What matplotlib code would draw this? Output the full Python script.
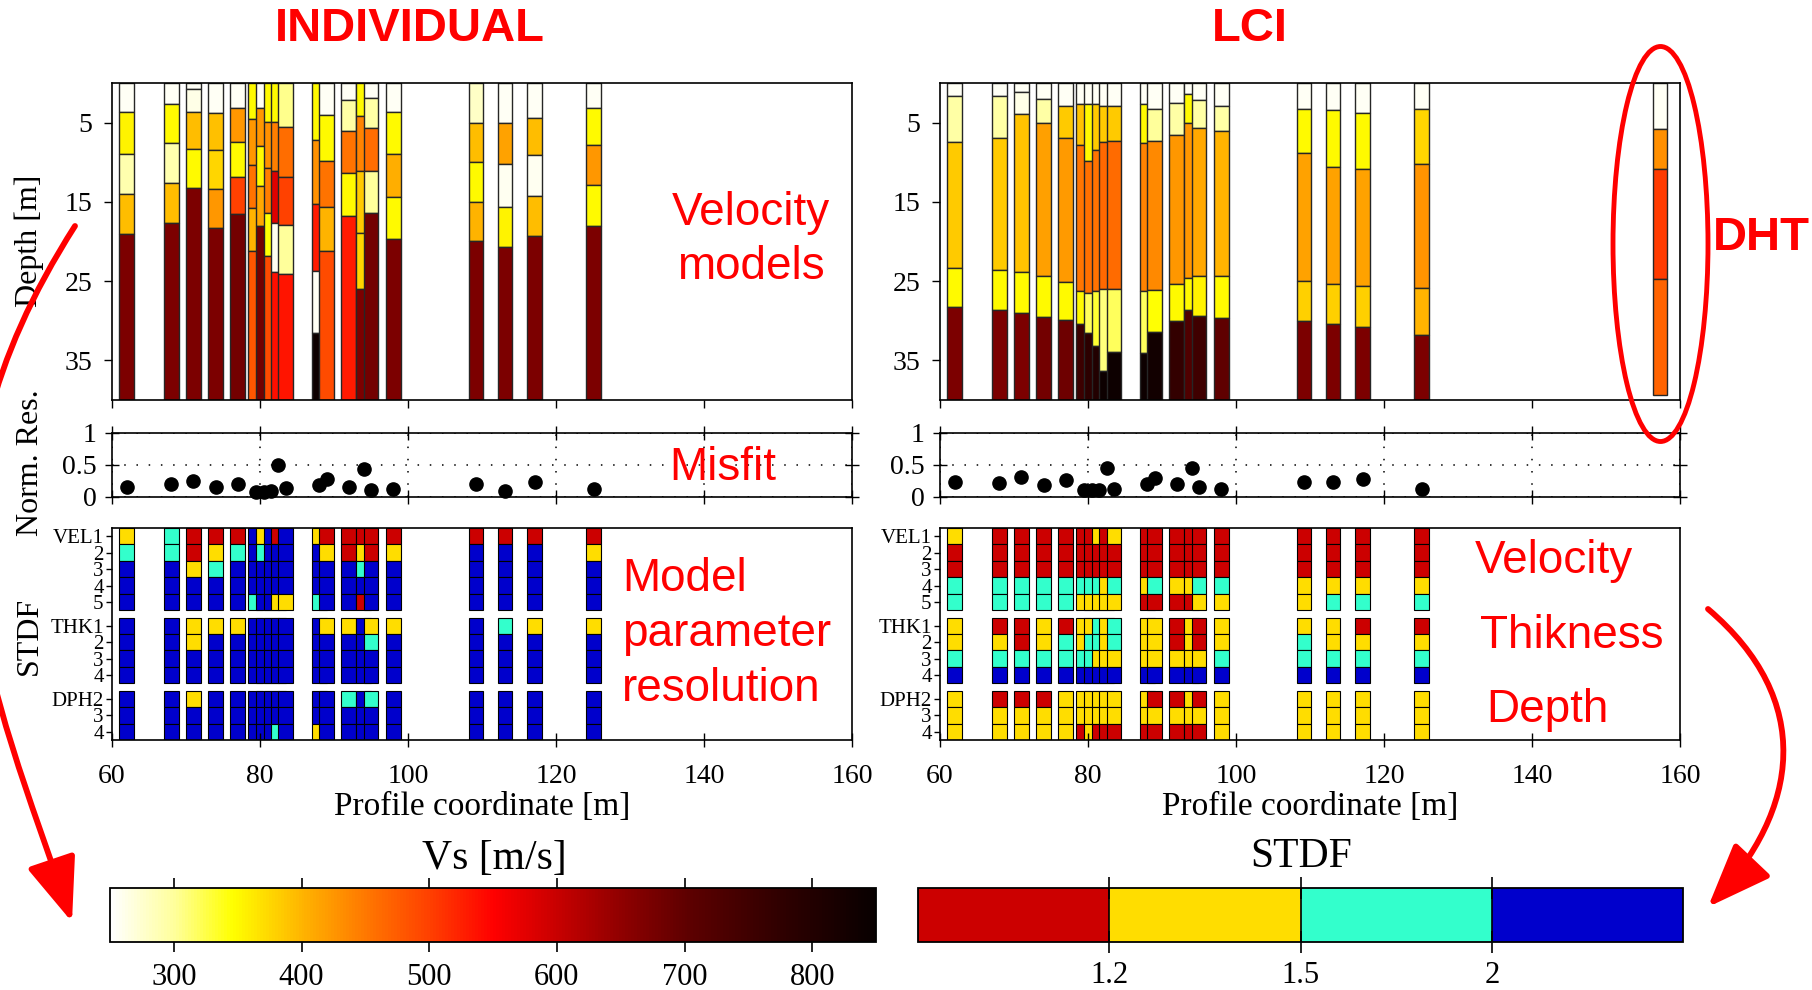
import matplotlib
matplotlib.use("Agg")
import matplotlib.pyplot as plt
import matplotlib.cm as cm
from matplotlib.colors import LinearSegmentedColormap, ListedColormap, BoundaryNorm, Normalize
from matplotlib.patches import Ellipse, FancyArrowPatch
from matplotlib.path import Path

plt.rcParams['font.family'] = ['Liberation Serif', 'DejaVu Serif']
SANS = ['Liberation Sans', 'DejaVu Sans']

# ---------------------------------------------------------------- data
positions = [62, 68, 71, 74, 77, 79.4, 80.5, 81.5, 82.5, 83.5,
             88, 89, 92, 94, 95, 98, 109.2, 113.1, 117.1, 125.1]

# layer interfaces (depth of each layer bottom, m) and Vs of each layer (m/s)
ind_interfaces = [
    [3.7, 9.0, 14.0, 19.0], [2.6, 7.6, 12.6, 17.7], [0.7, 3.6, 8.3, 13.2],
    [3.8, 8.5, 13.4, 18.3], [3.2, 7.4, 11.8, 16.5], [4.6, 10.3, 15.8, 21.2],
    [3.2, 8.0, 13.0, 18.1], [4.9, 10.7, 16.4, 21.8], [4.9, 11.1, 17.7, 23.9],
    [5.6, 11.9, 17.9, 24.1], [7.2, 15.3, 23.7, 31.5], [4.0, 9.9, 15.7, 21.2],
    [2.1, 6.0, 11.4, 16.8], [4.2, 11.1, 18.9, 26.0], [1.9, 5.7, 11.1, 16.4],
    [3.6, 9.0, 14.4, 19.7], [5.1, 10.0, 15.0, 19.9], [5.1, 10.2, 15.7, 20.7],
    [4.4, 9.1, 14.3, 19.3], [3.1, 7.8, 12.9, 18.1]]
ind_vs = [
    [255, 355, 290, 395, 670], [255, 350, 290, 395, 670], [255, 262, 395, 350, 670],
    [255, 392, 375, 425, 670], [255, 425, 350, 500, 680], [350, 425, 455, 400, 480],
    [255, 425, 350, 410, 680], [350, 430, 445, 345, 490], [350, 445, 580, 258, 540],
    [305, 460, 500, 300, 535], [350, 430, 530, 255, 840], [255, 350, 455, 400, 490],
    [255, 295, 455, 350, 530], [350, 440, 385, 375, 670], [255, 295, 460, 300, 680],
    [255, 350, 405, 350, 670], [280, 395, 350, 400, 670], [255, 415, 258, 355, 670],
    [255, 395, 258, 395, 670], [255, 350, 425, 350, 670]]

lci_interfaces = [
    [1.7, 7.5, 23.3, 28.3], [1.6, 7.0, 23.6, 28.7], [1.1, 3.9, 23.9, 29.0],
    [2.0, 5.1, 24.4, 29.5], [2.9, 7.0, 25.1, 29.9], [2.6, 7.8, 26.2, 30.4],
    [2.6, 9.9, 26.5, 31.5], [2.7, 8.4, 26.2, 33.2], [2.85, 7.4, 26.0, 36.4],
    [2.85, 7.3, 26.0, 33.9], [2.7, 7.6, 26.3, 34.1], [3.3, 7.3, 26.1, 31.4],
    [2.5, 6.5, 25.3, 30.0], [1.4, 5.1, 24.6, 28.7], [2.1, 5.7, 24.4, 29.4],
    [2.85, 6.1, 24.4, 29.6], [3.3, 8.8, 25.0, 30.0], [3.4, 10.6, 25.3, 30.4],
    [3.8, 10.9, 25.6, 30.8], [3.3, 10.2, 25.9, 31.8]]
lci_vs = [
    [255, 295, 385, 350, 670], [255, 295, 385, 350, 670], [255, 262, 390, 350, 670],
    [255, 295, 418, 350, 680], [255, 385, 423, 350, 685], [255, 390, 452, 350, 755],
    [255, 350, 458, 320, 780], [255, 385, 456, 330, 800], [255, 385, 465, 310, 840],
    [255, 385, 462, 320, 840], [255, 350, 440, 320, 840], [255, 300, 437, 345, 830],
    [255, 295, 425, 350, 770], [255, 350, 425, 350, 725], [255, 295, 410, 355, 750],
    [255, 295, 400, 350, 700], [255, 350, 415, 380, 670], [255, 350, 415, 380, 670],
    [255, 350, 415, 380, 670], [255, 375, 428, 400, 670]]

# down-hole test log
dht_position = 157.3
dht_interfaces = [5.8, 10.9, 24.7]
dht_vs = [255, 432, 505, 468]
dht_bottom = 39.4

ind_misfit = [0.16, 0.20, 0.25, 0.16, 0.21, 0.08, 0.08, 0.09, 0.50, 0.14,
              0.19, 0.28, 0.16, 0.44, 0.11, 0.12, 0.20, 0.09, 0.24, 0.12]
lci_misfit = [0.23, 0.22, 0.31, 0.19, 0.26, 0.11, 0.11, 0.11, 0.45, 0.13,
              0.21, 0.29, 0.20, 0.45, 0.16, 0.12, 0.23, 0.24, 0.28, 0.13]

# STDF class of each parameter (VEL1-5, THK1-4, DPH2-4):
# R < 1.2, Y 1.2-1.5, C 1.5-2, B > 2
ind_stdf = [
    "YCBBB" "BBBB" "BBB", "CCBBB" "BBBB" "BBB", "RRYBB" "YYBB" "YBB",
    "RYCBB" "YBBB" "BBB", "RCBBB" "YBBB" "BBB", "BBBBC" "BBBB" "BBB",
    "YCBBB" "BBBB" "BBB", "BBBBB" "BBBB" "BBB", "RBBBY" "BBBB" "BBC",
    "BBBBY" "BBBB" "BBB", "YBBBC" "BBBB" "BBY", "RYBBB" "YBBB" "BBB",
    "RRBBB" "YBBB" "CBB", "RYCBR" "BBBB" "BBB", "RRBBB" "YCBB" "CBB",
    "RYBBB" "YBBB" "BBB", "RBBBB" "BBBB" "BBB", "RBBBB" "CBBB" "BBB",
    "RBBBB" "YBBB" "BBB", "RYBBB" "YBBB" "BBB"]
lci_stdf = [
    "YRRCC" "YYCB" "YYY", "RRRCC" "RYCB" "RYY", "RRRCC" "RRCB" "RYY",
    "RRRCC" "YYCB" "RYY", "RRRCC" "RCCB" "YYY", "RRRCY" "YYCB" "YYR",
    "RRRCY" "YCCB" "YYY", "YRRCY" "CCYB" "YYR", "RRRYY" "YYYB" "YYR",
    "YRRCY" "CCYB" "YYR", "RRRYR" "YYYB" "YYR", "RRRCR" "YYYB" "RYR",
    "RRRYR" "RRYB" "RYR", "RRRYR" "YYYB" "YYR", "RRRCY" "RRYB" "RYR",
    "RRRCY" "YYCB" "YYY", "RRRYY" "YCCB" "YYY", "RRRYC" "YYCB" "YYY",
    "RRRYC" "RYCB" "YYY", "RRRYC" "RYCB" "YYY"]

param_labels = ['VEL1', '2', '3', '4', '5', 'THK1', '2', '3', '4', 'DPH2', '3', '4']
stdf_classes = "RYCB"
stdf_colors = ['#CC0000', '#FFDD00', '#33FFCC', '#0000CC']
stdf_bounds = [1.0, 1.2, 1.5, 2.0, 3.0]
stdf_ticks = [1.2, 1.5, 2.0]
stdf_ticklabels = ['1.2', '1.5', '2']

vs_range = (250, 850)
vs_ticks = [300, 400, 500, 600, 700, 800]
vs_anchors = [(250, '#FFFFFF'), (300, '#FFFF9A'), (345, '#FFFF00'), (400, '#FFB400'),
              (450, '#FF7800'), (500, '#FF4000'), (550, '#FF0000'), (600, '#C80000'),
              (650, '#900000'), (700, '#600000'), (775, '#300000'), (850, '#080000')]

depth_max = 40
depth_ticks = [5, 15, 25, 35]
profile_range = (60, 160)
profile_ticks = [60, 80, 100, 120, 140, 160]
misfit_ticks = [0, 0.5, 1]
bar_width = 2.0

# ---------------------------------------------------------------- styles
vs_cmap = LinearSegmentedColormap.from_list(
    'vs', [((v - vs_range[0]) / (vs_range[1] - vs_range[0]), c) for v, c in vs_anchors])
vs_norm = Normalize(*vs_range)

# STDF row layout: three groups of rows separated by small gaps
gap = 0.45
row_top = [0, 1, 2, 3, 4, 5 + gap, 6 + gap, 7 + gap, 8 + gap,
           9 + 2 * gap, 10 + 2 * gap, 11 + 2 * gap]
stdf_total = 12 + 2 * gap

W, H = 1812, 990
fig = plt.figure(figsize=(W / 100, H / 100), dpi=100)


def px_axes(x0, y0, x1, y1):
    return fig.add_axes([x0 / W, 1 - y1 / H, (x1 - x0) / W, (y1 - y0) / H])


TICK = 20


def velocity_panel(ax, interfaces, vs):
    for x, itf, v in zip(positions, interfaces, vs):
        tops = [0] + list(itf)
        bots = list(itf) + [depth_max]
        ax.bar([x] * len(tops), [b - t for t, b in zip(tops, bots)], bottom=tops,
               width=bar_width, color=vs_cmap(vs_norm(v)), edgecolor='#262626',
               linewidth=1.0, align='center')
    ax.set_xlim(*profile_range)
    ax.set_ylim(depth_max, 0)
    ax.set_yticks(depth_ticks)
    ax.set_xticks(profile_ticks)
    ax.tick_params(axis='x', direction='out', length=6, width=1, labelbottom=False)
    ax.tick_params(axis='y', direction='out', length=6, width=1, labelsize=TICK, pad=8)


def misfit_panel(ax, misfit):
    ax.plot(positions, misfit, 'o', color='black', ms=9.5, clip_on=False, zorder=5)
    ax.set_xlim(*profile_range)
    ax.set_ylim(0, 1)
    ax.set_xticks(profile_ticks)
    ax.set_yticks(misfit_ticks)
    ax.set_yticklabels(['0', '0.5', '1'])
    ax.grid(True, color='black', linestyle=(0, (1, 7)), linewidth=1.1)
    ax.tick_params(direction='inout', length=10, width=1, top=True, right=True,
                   labelbottom=False, labelsize=TICK, pad=6)


def stdf_panel(ax, classes):
    for x, s in zip(positions, classes):
        cols = [stdf_colors[stdf_classes.index(c)] for c in s]
        ax.bar([x] * len(s), [1] * len(s), bottom=row_top, width=bar_width,
               color=cols, edgecolor='black', linewidth=0.8)
    ax.set_xlim(*profile_range)
    ax.set_ylim(stdf_total, 0)
    ax.set_yticks([t + 0.5 for t in row_top])
    ax.set_yticklabels(param_labels)
    ax.set_xticks(profile_ticks)
    ax.tick_params(axis='y', direction='out', length=4, width=1, labelsize=15, pad=2)
    ax.tick_params(axis='x', direction='inout', length=10, width=1, labelsize=TICK, pad=12)
    for lab in ax.get_yticklabels():
        lab.set_verticalalignment('center_baseline')
    ax.set_xlabel('Profile coordinate [m]', fontsize=24, labelpad=2)


for ax_x0, ax_x1, itf, vs, mis, std in [
        (112, 852, ind_interfaces, ind_vs, ind_misfit, ind_stdf),
        (940, 1680, lci_interfaces, lci_vs, lci_misfit, lci_stdf)]:
    av = px_axes(ax_x0, 83, ax_x1, 400)
    velocity_panel(av, itf, vs)
    am = px_axes(ax_x0, 433, ax_x1, 497)
    misfit_panel(am, mis)
    ast = px_axes(ax_x0, 528, ax_x1, 740)
    stdf_panel(ast, std)
    for a in (av, am, ast):
        for sp in a.spines.values():
            sp.set_linewidth(1.2)
    if ax_x0 > 500:
        tops = [0] + dht_interfaces
        bots = dht_interfaces + [dht_bottom]
        av.bar([dht_position] * len(tops), [b - t for t, b in zip(tops, bots)], bottom=tops,
               width=bar_width, color=vs_cmap(vs_norm(dht_vs)), edgecolor='#262626',
               linewidth=1.0)

# axis titles on the left side
fig.text(29 / W, 1 - 241 / H, 'Depth [m]', rotation=90, ha='center', va='center', fontsize=23)
fig.text(30 / W, 1 - 463 / H, 'Norm. Res.', rotation=90, ha='center', va='center', fontsize=23)
fig.text(29 / W, 1 - 636 / H, 'STDF', rotation=90, ha='center', va='center', fontsize=23)

# ---------------------------------------------------------------- colour bars
cax1 = px_axes(110, 888, 876, 942)
cb1 = fig.colorbar(cm.ScalarMappable(norm=vs_norm, cmap=vs_cmap), cax=cax1,
                   orientation='horizontal', ticks=vs_ticks)
cax1.tick_params(axis='x', direction='out', top=True, bottom=True, length=7, width=1.2,
                 labelsize=22, pad=8)
cax1.minorticks_off()
cb1.outline.set_linewidth(1.3)
fig.text(494 / W, 1 - 859 / H, 'Vs [m/s]', ha='center', va='center', fontsize=30)

stdf_cmap = ListedColormap(stdf_colors)
stdf_norm = BoundaryNorm(stdf_bounds, stdf_cmap.N)
cax2 = px_axes(918, 888, 1683, 942)
cb2 = fig.colorbar(cm.ScalarMappable(norm=stdf_norm, cmap=stdf_cmap), cax=cax2,
                   orientation='horizontal', boundaries=stdf_bounds, spacing='uniform',
                   ticks=stdf_ticks, drawedges=True)
cb2.set_ticklabels(stdf_ticklabels)
cax2.tick_params(axis='x', direction='inout', top=True, bottom=True, length=16, width=1.2,
                 labelsize=22, pad=6)
cax2.minorticks_off()
cb2.outline.set_linewidth(1.3)
cb2.dividers.set_linewidth(1.2)
fig.text(1301 / W, 1 - 857 / H, 'STDF', ha='center', va='center', fontsize=30)

# ---------------------------------------------------------------- red annotations
RED = '#FF0000'


def fpt(x, y):
    return (x / W, 1 - y / H)


fig.text(*fpt(410, 29), 'INDIVIDUAL', color=RED, fontsize=34, fontweight='bold',
         family=SANS, ha='center', va='center')
fig.text(*fpt(1250, 29), 'LCI', color=RED, fontsize=34, fontweight='bold',
         family=SANS, ha='center', va='center')
fig.text(*fpt(1761, 238), 'DHT', color=RED, fontsize=34, fontweight='bold',
         family=SANS, ha='center', va='center')
fig.text(*fpt(751, 240), 'Velocity\nmodels', color=RED, fontsize=33, family=SANS,
         ha='center', va='center', linespacing=1.3)
fig.text(*fpt(723, 468), 'Misfit', color=RED, fontsize=33, family=SANS,
         ha='center', va='center')
fig.text(*fpt(622, 634), 'Model\nparameter\nresolution', color=RED, fontsize=33,
         family=SANS, ha='left', va='center', linespacing=1.33)
fig.text(*fpt(1475, 573), 'Velocity', color=RED, fontsize=33, family=SANS,
         ha='left', va='baseline')
fig.text(*fpt(1480, 648), 'Thikness', color=RED, fontsize=33, family=SANS,
         ha='left', va='baseline')
fig.text(*fpt(1486, 722), 'Depth', color=RED, fontsize=33, family=SANS,
         ha='left', va='baseline')

fig.add_artist(Ellipse(fpt(1660.5, 244), 95 / W, 395 / H, transform=fig.transFigure,
                       fill=False, edgecolor=RED, linewidth=3.5, zorder=10))

arrow_paths = [
    [(75, 226), (-100, 500), (-10, 680), (72, 922)],
    [(1708, 609), (1815, 700), (1800, 810), (1708, 907)],
]
for pts in arrow_paths:
    verts = [fpt(x, y) for x, y in pts]
    path = Path(verts, [Path.MOVETO, Path.CURVE4, Path.CURVE4, Path.CURVE4])
    arr = FancyArrowPatch(path=path, arrowstyle='-|>,head_length=1.8,head_width=0.7',
                          mutation_scale=22, color=RED, linewidth=4.2,
                          transform=fig.transFigure, zorder=10)
    fig.add_artist(arr)

fig.savefig('out.png', dpi=100)
